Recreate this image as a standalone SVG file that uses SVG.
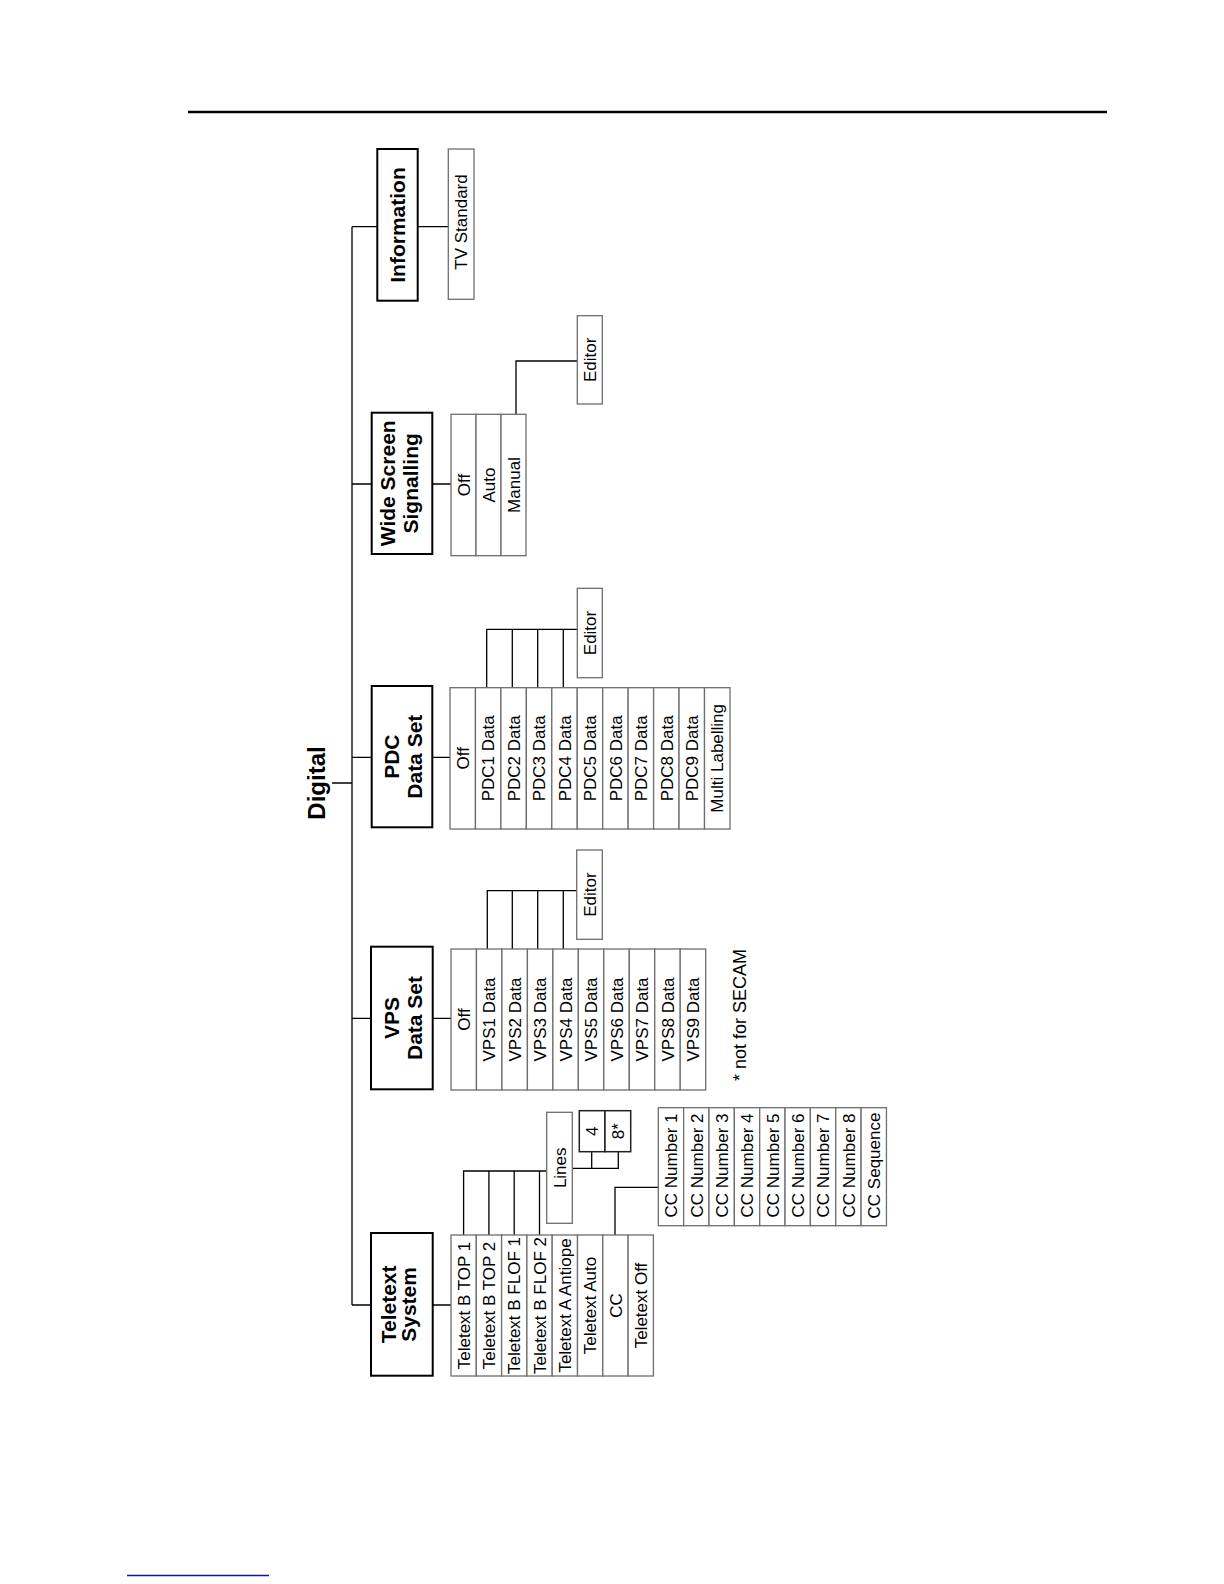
<svg xmlns="http://www.w3.org/2000/svg" width="1224" height="1584" viewBox="0 0 1224 1584">
<style>
.hdr{fill:#fff;stroke:#000;stroke-width:2}
.item{fill:#fff;stroke:#6e6e6e;stroke-width:1.3}
.dark{fill:#fff;stroke:#222;stroke-width:1.5}
.con{fill:none;stroke:#000;stroke-width:1.3}
text{font-family:"Liberation Sans",Arial,sans-serif;fill:#000;text-anchor:middle}
.t{font-size:17px}
.h{font-size:21px;font-weight:bold}
.title{font-size:24px;font-weight:bold}
</style>
<rect width="1224" height="1584" fill="#fff"/>
<line x1="188" y1="112" x2="1107" y2="112" stroke="#000" stroke-width="2.5"/>
<line x1="127" y1="1575.5" x2="269" y2="1575.5" stroke="#1414a0" stroke-width="1.5"/>

<g id="connectors">
<path class="con" d="M352,226.7 V1305 M332,783 H352"/>
<path class="con" d="M352,226.7 H377.3 M417.7,226.7 H448.3"/>
<path class="con" d="M352,484 H371.7 M432.3,484 H451 M516,414.3 V361 H577.3"/>
<path class="con" d="M352,757.3 H371.7 M432.3,757.3 H450 M486.7,687.7 V629.3 H577.3 M512.3,687.7 V629.3 M537.7,687.7 V629.3 M563.3,687.7 V629.3"/>
<path class="con" d="M352,1018.3 H371 M432.7,1018.3 H451 M487.3,949 V890.7 H576.7 M512.3,949 V890.7 M537.7,949 V890.7 M563.3,949 V890.7"/>
<path class="con" d="M352,1305 H371 M432.7,1305 H451 M463.6,1235 V1171 H546.7 M488.9,1235 V1171 M514.2,1235 V1171 M539.5,1235 V1171"/>
<path class="con" d="M572.3,1168.3 H618.3 V1151.7 M591.7,1168.3 V1151.7"/>
<path class="con" d="M615,1235 V1187.3 H658.3"/>
</g>

<g id="digital">
<text class="title" transform="translate(325,783) rotate(-90)">Digital</text>
</g>

<g id="information">
<rect class="hdr" x="377.3" y="149" width="40.4" height="151.7"/>
<text class="h" transform="translate(405,225) rotate(-90)">Information</text>
</g>
<g id="tv-standard">
<rect class="item" x="448.3" y="149" width="25.7" height="150.3"/>
<text class="t" transform="translate(467.3,222) rotate(-90)">TV Standard</text>
</g>

<g id="wss">
<rect class="hdr" x="371.7" y="412.7" width="60.6" height="141.3"/>
<text class="h" transform="translate(395,483.3) rotate(-90)">Wide Screen</text>
<text class="h" transform="translate(417.5,483.3) rotate(-90)">Signalling</text>
</g>
<g id="wss-items">
<rect class="item" x="451" y="414.3" width="25" height="141.4"/>
<rect class="item" x="476" y="414.3" width="25" height="141.4"/>
<rect class="item" x="501" y="414.3" width="25" height="141.4"/>
<text class="t" transform="translate(469.7,485) rotate(-90)">Off</text>
<text class="t" transform="translate(494.7,485) rotate(-90)">Auto</text>
<text class="t" transform="translate(519.7,485) rotate(-90)">Manual</text>
</g>
<g id="wss-editor">
<rect class="item" x="577.3" y="315.7" width="25" height="88.3"/>
<text class="t" transform="translate(596,359.8) rotate(-90)">Editor</text>
</g>

<g id="pdc">
<rect class="hdr" x="371.7" y="686" width="60.6" height="141.3"/>
<text class="h" transform="translate(398.5,756.7) rotate(-90)">PDC</text>
<text class="h" transform="translate(422,756.7) rotate(-90)">Data Set</text>
</g>
<g id="pdc-items">
<rect class="item" x="450" y="687.7" width="25.45" height="141.3"/>
<rect class="item" x="475.45" y="687.7" width="25.45" height="141.3"/>
<rect class="item" x="500.9" y="687.7" width="25.45" height="141.3"/>
<rect class="item" x="526.35" y="687.7" width="25.45" height="141.3"/>
<rect class="item" x="551.8" y="687.7" width="25.45" height="141.3"/>
<rect class="item" x="577.25" y="687.7" width="25.45" height="141.3"/>
<rect class="item" x="602.7" y="687.7" width="25.45" height="141.3"/>
<rect class="item" x="628.15" y="687.7" width="25.45" height="141.3"/>
<rect class="item" x="653.6" y="687.7" width="25.45" height="141.3"/>
<rect class="item" x="679.05" y="687.7" width="25.45" height="141.3"/>
<rect class="item" x="704.5" y="687.7" width="25.5" height="141.3"/>
<text class="t" transform="translate(468.9,758.3) rotate(-90)">Off</text>
<text class="t" transform="translate(494.4,758.3) rotate(-90)">PDC1 Data</text>
<text class="t" transform="translate(519.8,758.3) rotate(-90)">PDC2 Data</text>
<text class="t" transform="translate(545.3,758.3) rotate(-90)">PDC3 Data</text>
<text class="t" transform="translate(570.7,758.3) rotate(-90)">PDC4 Data</text>
<text class="t" transform="translate(596.2,758.3) rotate(-90)">PDC5 Data</text>
<text class="t" transform="translate(621.6,758.3) rotate(-90)">PDC6 Data</text>
<text class="t" transform="translate(647.1,758.3) rotate(-90)">PDC7 Data</text>
<text class="t" transform="translate(672.5,758.3) rotate(-90)">PDC8 Data</text>
<text class="t" transform="translate(698,758.3) rotate(-90)">PDC9 Data</text>
<text class="t" transform="translate(723.4,758.3) rotate(-90)">Multi Labelling</text>
</g>
<g id="pdc-editor">
<rect class="item" x="577.3" y="588.3" width="25" height="89.4"/>
<text class="t" transform="translate(596,633) rotate(-90)">Editor</text>
</g>

<g id="vps">
<rect class="hdr" x="371" y="946.7" width="61.7" height="142.6"/>
<text class="h" transform="translate(398.5,1018) rotate(-90)">VPS</text>
<text class="h" transform="translate(422,1018) rotate(-90)">Data Set</text>
</g>
<g id="vps-items">
<rect class="item" x="451" y="949" width="25.47" height="141"/>
<rect class="item" x="476.47" y="949" width="25.47" height="141"/>
<rect class="item" x="501.94" y="949" width="25.47" height="141"/>
<rect class="item" x="527.41" y="949" width="25.47" height="141"/>
<rect class="item" x="552.88" y="949" width="25.47" height="141"/>
<rect class="item" x="578.35" y="949" width="25.47" height="141"/>
<rect class="item" x="603.82" y="949" width="25.47" height="141"/>
<rect class="item" x="629.29" y="949" width="25.47" height="141"/>
<rect class="item" x="654.76" y="949" width="25.47" height="141"/>
<rect class="item" x="680.23" y="949" width="25.47" height="141"/>
<text class="t" transform="translate(469.9,1019.5) rotate(-90)">Off</text>
<text class="t" transform="translate(495.4,1019.5) rotate(-90)">VPS1 Data</text>
<text class="t" transform="translate(520.9,1019.5) rotate(-90)">VPS2 Data</text>
<text class="t" transform="translate(546.3,1019.5) rotate(-90)">VPS3 Data</text>
<text class="t" transform="translate(571.8,1019.5) rotate(-90)">VPS4 Data</text>
<text class="t" transform="translate(597.3,1019.5) rotate(-90)">VPS5 Data</text>
<text class="t" transform="translate(622.8,1019.5) rotate(-90)">VPS6 Data</text>
<text class="t" transform="translate(648.2,1019.5) rotate(-90)">VPS7 Data</text>
<text class="t" transform="translate(673.7,1019.5) rotate(-90)">VPS8 Data</text>
<text class="t" transform="translate(699.2,1019.5) rotate(-90)">VPS9 Data</text>
</g>
<g id="vps-editor">
<rect class="item" x="576.7" y="850" width="25.6" height="89.3"/>
<text class="t" transform="translate(595.7,894.6) rotate(-90)">Editor</text>
</g>
<g id="note">
<text class="t" style="font-size:18px" transform="translate(746,1015) rotate(-90)">* not for SECAM</text>
</g>

<g id="teletext">
<rect class="hdr" x="371" y="1233" width="61.7" height="142.7"/>
<text class="h" transform="translate(396,1304.4) rotate(-90)">Teletext</text>
<text class="h" transform="translate(416,1304.4) rotate(-90)">System</text>
</g>
<g id="teletext-items">
<rect class="item" x="451" y="1235" width="25.3" height="141"/>
<rect class="item" x="476.3" y="1235" width="25.3" height="141"/>
<rect class="item" x="501.6" y="1235" width="25.3" height="141"/>
<rect class="item" x="526.9" y="1235" width="25.3" height="141"/>
<rect class="item" x="552.2" y="1235" width="25.3" height="141"/>
<rect class="item" x="577.5" y="1235" width="25.3" height="141"/>
<rect class="item" x="602.8" y="1235" width="25.3" height="141"/>
<rect class="item" x="628.1" y="1235" width="25.3" height="141"/>
<text class="t" transform="translate(469.8,1305.5) rotate(-90)">Teletext B TOP 1</text>
<text class="t" transform="translate(495.1,1305.5) rotate(-90)">Teletext B TOP 2</text>
<text class="t" transform="translate(520.4,1305.5) rotate(-90)">Teletext B FLOF 1</text>
<text class="t" transform="translate(545.7,1305.5) rotate(-90)">Teletext B FLOF 2</text>
<text class="t" transform="translate(571,1305.5) rotate(-90)">Teletext A Antiope</text>
<text class="t" transform="translate(596.3,1305.5) rotate(-90)">Teletext Auto</text>
<text class="t" transform="translate(621.6,1305.5) rotate(-90)">CC</text>
<text class="t" transform="translate(646.9,1305.5) rotate(-90)">Teletext Off</text>
</g>
<g id="lines">
<rect class="item" x="546.7" y="1112.3" width="25.6" height="111"/>
<text class="t" transform="translate(565.7,1167.8) rotate(-90)">Lines</text>
</g>
<g id="lines-4">
<rect class="dark" x="579.3" y="1110.7" width="25.7" height="41"/>
<text class="t" transform="translate(598.4,1131.2) rotate(-90)">4</text>
</g>
<g id="lines-8">
<rect class="dark" x="605" y="1110.7" width="25.7" height="41"/>
<text class="t" transform="translate(624.1,1131.2) rotate(-90)">8*</text>
</g>
<g id="cc-items">
<rect class="item" x="658.3" y="1107.7" width="25.35" height="118"/>
<rect class="item" x="683.65" y="1107.7" width="25.35" height="118"/>
<rect class="item" x="709" y="1107.7" width="25.35" height="118"/>
<rect class="item" x="734.35" y="1107.7" width="25.35" height="118"/>
<rect class="item" x="759.7" y="1107.7" width="25.35" height="118"/>
<rect class="item" x="785.05" y="1107.7" width="25.35" height="118"/>
<rect class="item" x="810.4" y="1107.7" width="25.35" height="118"/>
<rect class="item" x="835.75" y="1107.7" width="25.35" height="118"/>
<rect class="item" x="861.1" y="1107.7" width="25.35" height="118"/>
<text class="t" transform="translate(677.2,1165.5) rotate(-90)">CC Number 1</text>
<text class="t" transform="translate(702.5,1165.5) rotate(-90)">CC Number 2</text>
<text class="t" transform="translate(727.9,1165.5) rotate(-90)">CC Number 3</text>
<text class="t" transform="translate(753.2,1165.5) rotate(-90)">CC Number 4</text>
<text class="t" transform="translate(778.6,1165.5) rotate(-90)">CC Number 5</text>
<text class="t" transform="translate(803.9,1165.5) rotate(-90)">CC Number 6</text>
<text class="t" transform="translate(829.3,1165.5) rotate(-90)">CC Number 7</text>
<text class="t" transform="translate(854.6,1165.5) rotate(-90)">CC Number 8</text>
<text class="t" transform="translate(880,1165.5) rotate(-90)">CC Sequence</text>
</g>
</svg>
